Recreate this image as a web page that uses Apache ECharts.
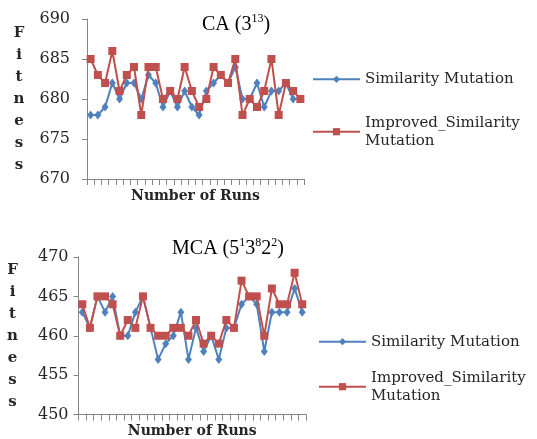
<!DOCTYPE html>
<html><head><meta charset="utf-8">
<script src="https://cdn.jsdelivr.net/npm/echarts@6/dist/echarts.min.js"></script>
<style>html,body{margin:0;padding:0;background:#fff}#c{width:537px;height:439px}</style>
</head><body><div id="c"></div>
<script>
const runs = ['1','2','3','4','5','6','7','8','9','10','11','12','13','14','15','16','17','18','19','20','21','22','23','24','25','26','27','28','29','30'];
const caSimilarity = [678,678,679,682,680,682,682,680,683,682,679,681,679,681,679,678,681,682,683,682,684,680,680,682,679,681,681,682,680,680];
const caImproved   = [685,683,682,686,681,683,684,678,684,684,680,681,680,684,681,679,680,684,683,682,685,678,680,679,681,685,678,682,681,680];
const mcaSimilarity = [463,461,465,463,465,460,460,463,465,461,457,459,460,463,457,461,458,460,457,461,461,464,465,464,458,463,463,463,466,463];
const mcaImproved   = [464,461,465,465,464,460,462,461,465,461,460,460,461,461,460,462,459,460,459,462,461,467,465,465,460,466,464,464,468,464];
const caRange = [670, 690];
const mcaRange = [450, 470];
const tickStep = 5;
const seriesNames = ['Similarity Mutation', 'Improved_Similarity Mutation'];

const serif = 'DejaVu Serif';
const titleFont = 'Liberation Serif';
const textColor = '#262626';
const axisColor = '#868686';
const blue = '#4F81BD';
const red = '#C0504D';

function xAxisCfg(gridIndex, gap) {
  return {
    type: 'category', gridIndex: gridIndex, data: runs, boundaryGap: true,
    axisLine: {lineStyle: {color: axisColor, width: 1}},
    axisTick: {show: true, interval: 0, length: 6, lineStyle: {color: axisColor}},
    axisLabel: {show: false},
    splitLine: {show: false},
    name: 'Number of Runs', nameLocation: 'middle', nameGap: gap,
    nameTextStyle: {fontFamily: serif, fontWeight: 'bold', fontSize: 14, color: textColor}
  };
}
function yAxisCfg(gridIndex, range, margin, nameGap, padTop) {
  return {
    type: 'value', gridIndex: gridIndex, min: range[0], max: range[1], interval: tickStep,
    axisLine: {show: true, lineStyle: {color: axisColor, width: 1}},
    axisTick: {show: true, length: 5, lineStyle: {color: axisColor}},
    splitLine: {show: false},
    axisLabel: {fontFamily: serif, fontSize: 16, color: textColor, margin: margin},
    name: 'F\ni\nt\nn\ne\ns\ns', nameLocation: 'middle', nameRotate: 0, nameGap: nameGap,
    nameTextStyle: {fontFamily: serif, fontWeight: 'bold', fontSize: 15, lineHeight: 22,
      color: textColor, align: 'center', verticalAlign: 'middle', padding: [padTop, 0, 0, 0]}
  };
}
function lineSeries(name, xi, data, isImproved) {
  const c = isImproved ? red : blue;
  return {
    name: name, type: 'line', xAxisIndex: xi, yAxisIndex: xi, data: data,
    symbol: isImproved ? 'rect' : 'diamond', symbolSize: isImproved ? 8 : [7, 9],
    showAllSymbol: true,
    itemStyle: {color: c},
    lineStyle: {color: c, width: 2},
    z: isImproved ? 3 : 2
  };
}
const legendText = {fontFamily: serif, fontSize: 15, color: textColor, lineHeight: 18};
function legendCfg(name, left, top, twoLine) {
  return {
    data: [name], left: left, top: top, padding: 0, orient: 'vertical',
    itemWidth: 47, itemHeight: 9,
    formatter: twoLine ? function () { return 'Improved_Similarity\nMutation'; } : undefined,
    textStyle: twoLine ? Object.assign({}, legendText, {padding: [18, 0, 0, 0]}) : legendText
  };
}
const titleRich = {
  m: {fontFamily: titleFont, fontSize: 20, fontWeight: 'normal', color: '#000', lineHeight: 24},
  s: {fontFamily: titleFont, fontSize: 12, fontWeight: 'normal', color: '#000', lineHeight: 12, verticalAlign: 'top'}
};

const option = {
  animation: false,
  backgroundColor: '#fff',
  title: [
    {text: '{m|CA (3}{s|13}{m|)}', left: 236, top: 13, textAlign: 'center', padding: 0,
     textStyle: {fontWeight: 'normal', rich: titleRich}},
    {text: '{m|MCA (5}{s|1}{m|3}{s|8}{m|2}{s|2}{m|)}', left: 228, top: 237, textAlign: 'center', padding: 0,
     textStyle: {fontWeight: 'normal', rich: titleRich}}
  ],
  legend: [
    legendCfg(seriesNames[0], 312, 70.3, false),
    legendCfg(seriesNames[1], 312, 104.7, true),
    legendCfg(seriesNames[0], 318, 332.7, false),
    legendCfg(seriesNames[1], 318, 359.7, true)
  ],
  grid: [
    {left: 87, top: 19, width: 217, height: 160, containLabel: false},
    {left: 78.5, top: 257, width: 227.5, height: 157.5, containLabel: false}
  ],
  xAxis: [xAxisCfg(0, 10), xAxisCfg(1, 9.5)],
  yAxis: [yAxisCfg(0, caRange, 17, 68, 9), yAxisCfg(1, mcaRange, 10, 66, 10)],
  series: [
    lineSeries(seriesNames[0], 0, caSimilarity, false),
    lineSeries(seriesNames[1], 0, caImproved, true),
    lineSeries(seriesNames[0], 1, mcaSimilarity, false),
    lineSeries(seriesNames[1], 1, mcaImproved, true)
  ]
};
const chart = echarts.init(document.getElementById('c'));
chart.setOption(option);
</script>
</body></html>
